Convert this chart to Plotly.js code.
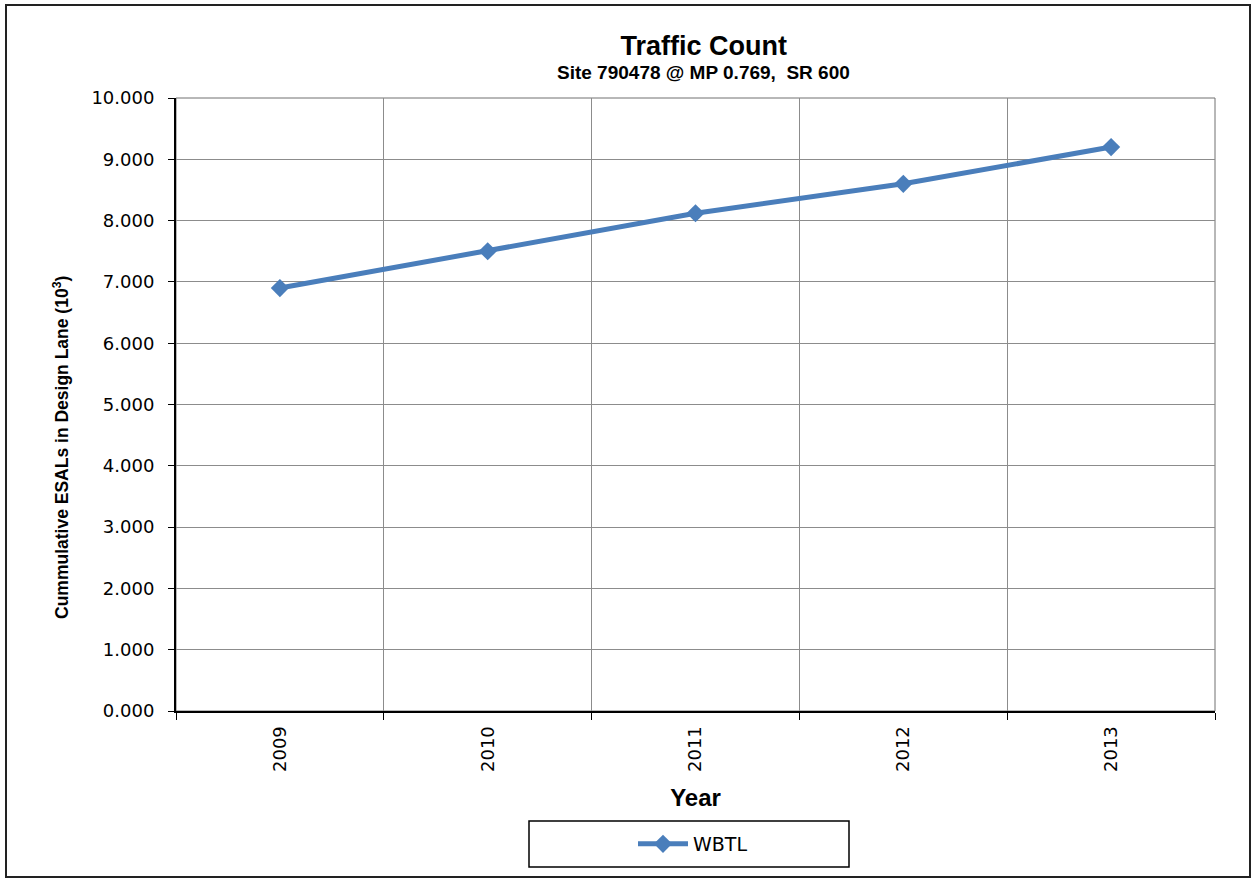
<!DOCTYPE html>
<html>
<head>
<meta charset="utf-8">
<script src="https://cdn.plot.ly/plotly-3.0.1.min.js"></script>
<style>body{margin:0;background:#fff}#chart{width:1252px;height:880px}</style>
</head>
<body>
<div id="chart"></div>
<script>
const years = ["2009", "2010", "2011", "2012", "2013"];
const wbtl = [6.90, 7.50, 8.12, 8.60, 9.20];
const seriesName = "WBTL";
const titleText = "Traffic Count";
const subtitleText = "Site 790478 @ MP 0.769,  SR 600";
const yTitle = "Cummulative ESALs in Design Lane (10<sup>3</sup>)";
const xTitle = "Year";

const blue = "#4a7ebb";
const tickFont = {family: "DejaVu Sans, Verdana, sans-serif", size: 18, color: "#000"};
const boldFont = "Liberation Sans Narrow, Liberation Sans, Arial, sans-serif";

const trace = {
  x: years, y: wbtl, name: seriesName, type: "scatter", mode: "lines+markers",
  line: {color: blue, width: 5},
  marker: {symbol: "diamond", size: 14, color: blue}
};

const layout = {
  width: 1252, height: 880,
  margin: {l: 176, r: 37, t: 98, b: 169},
  paper_bgcolor: "#fff", plot_bgcolor: "#fff",
  title: {
    text: "<b>" + titleText + "</b>",
    font: {family: boldFont, size: 27, color: "#000"},
    x: 0.508, xref: "paper", xanchor: "center",
    y: 1 - 46/880, yref: "container", yanchor: "middle"
  },
  showlegend: true,
  legend: {
    x: (693 - 176) / 1039, xanchor: "center", y: -0.217, yanchor: "middle",
    itemwidth: 50,
    font: {family: "DejaVu Sans, Verdana, sans-serif", size: 19, color: "#000"},
    bgcolor: "rgba(0,0,0,0)"
  },
  xaxis: {
    type: "category", range: [-0.5, 4.5], tickson: "boundaries",
    showgrid: true, gridcolor: "#8c8c8c", gridwidth: 1,
    showline: true, linecolor: "#000", linewidth: 2,
    ticks: "outside", ticklen: 7, tickcolor: "#000", tickwidth: 1,
    ticklabelstandoff: 6,
    tickangle: -90, tickfont: tickFont,
    title: {text: "<b>" + xTitle + "</b>", font: {family: boldFont, size: 24, color: "#000"}, standoff: 18},
    zeroline: false, fixedrange: true
  },
  yaxis: {
    range: [0, 10], dtick: 1, tick0: 0, tickformat: ".3f",
    showgrid: true, gridcolor: "#8c8c8c", gridwidth: 1,
    showline: true, linecolor: "#000", linewidth: 2,
    ticks: "outside", ticklen: 6, tickcolor: "#000", tickwidth: 1,
    ticklabelstandoff: 10,
    tickfont: tickFont, zeroline: false, fixedrange: true
  },
  annotations: [
    {text: "<b>" + subtitleText + "</b>", xref: "paper", yref: "paper",
     x: 0.508, y: (711 - 72) / 613, xanchor: "center", yanchor: "middle", showarrow: false,
     font: {family: boldFont, size: 19, color: "#000"}},
    {text: "<b>" + yTitle + "</b>", xref: "paper", yref: "paper",
     x: (61 - 176) / 1039, y: (711 - 448) / 613, xanchor: "center", yanchor: "middle",
     textangle: -90, showarrow: false,
     font: {family: boldFont, size: 17.5, color: "#000"}}
  ],
  shapes: [
    {type: "rect", xref: "paper", yref: "paper", x0: 0, x1: 1, y0: 0, y1: 1,
     line: {color: "#707070", width: 1}, layer: "below"},
    {type: "rect", xref: "paper", yref: "paper",
     x0: (529 - 176) / 1039, x1: (849 - 176) / 1039,
     y0: (711 - 867) / 613, y1: (711 - 821) / 613,
     line: {color: "#000", width: 1.5}},
    {type: "rect", xref: "paper", yref: "paper",
     x0: (6 - 176) / 1039, x1: (1250 - 176) / 1039,
     y0: (711 - 877) / 613, y1: (711 - 5) / 613,
     line: {color: "#222", width: 2}}
  ]
};

Plotly.newPlot("chart", [trace], layout, {displayModeBar: false, staticPlot: true});
</script>
</body>
</html>
